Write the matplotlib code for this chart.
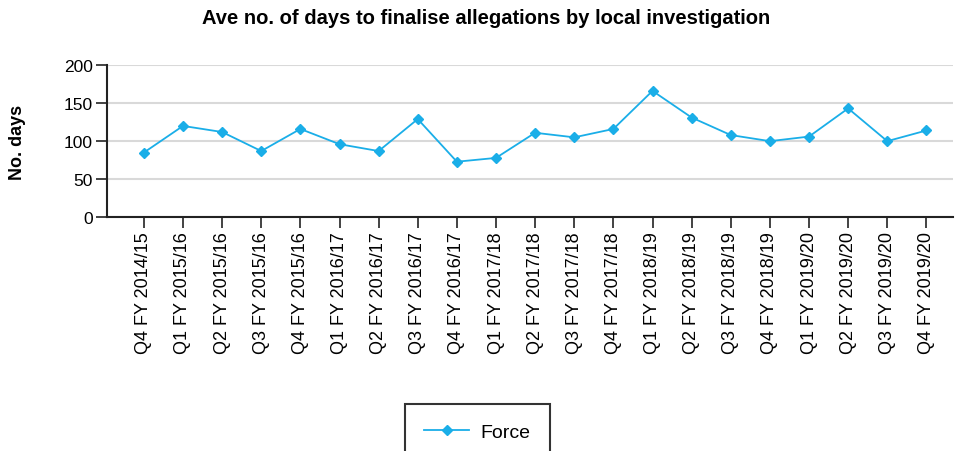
import matplotlib
matplotlib.use('Agg')
import matplotlib.pyplot as plt
import numpy as np

plt.rcParams['font.family'] = ['Liberation Sans', 'DejaVu Sans']

# quarters and average days
quarters = ['Q4 FY 2014/15', 'Q1 FY 2015/16', 'Q2 FY 2015/16', 'Q3 FY 2015/16',
            'Q4 FY 2015/16', 'Q1 FY 2016/17', 'Q2 FY 2016/17', 'Q3 FY 2016/17',
            'Q4 FY 2016/17', 'Q1 FY 2017/18', 'Q2 FY 2017/18', 'Q3 FY 2017/18',
            'Q4 FY 2017/18', 'Q1 FY 2018/19', 'Q2 FY 2018/19', 'Q3 FY 2018/19',
            'Q4 FY 2018/19', 'Q1 FY 2019/20', 'Q2 FY 2019/20', 'Q3 FY 2019/20',
            'Q4 FY 2019/20']
force_days = [85, 120, 112, 87, 116, 96, 87, 129, 73, 78, 111, 105,
              116, 166, 131, 108, 100, 106, 143, 100, 114]
y_ticks = [0, 50, 100, 150, 200]

line_col = '#1aaee8'

fig = plt.figure(figsize=(9.58, 4.52), dpi=100)
ax = fig.add_axes([106.7/958, 1-218.3/452, (953-106.7)/958, (218.3-66)/452])

x = np.arange(len(quarters))
ax.plot(x, force_days, color=line_col, lw=1.3, marker='D', ms=5,
        mec=line_col, mfc=line_col, label='Force', zorder=3)

ax.set_ylim(0, 200)
ax.set_yticks(y_ticks)
ax.set_xlim(-0.95, len(quarters) - 1 + 0.68)
ax.set_xticks(x)
ax.set_xticklabels(quarters, rotation=90, fontsize=13)
ax.tick_params(axis='y', labelsize=12.5, length=8, width=1.2, color='#222222', pad=2)
ax.tick_params(axis='x', length=8, width=1.2, color='#222222', pad=2)

ax.grid(axis='y', color='#d9d9d9', lw=1.5)
ax.set_axisbelow(True)
for s in ['top', 'right']:
    ax.spines[s].set_visible(False)
for s in ['left', 'bottom']:
    ax.spines[s].set_color('#222222')
    ax.spines[s].set_linewidth(1.5)

ax.set_ylabel('No. days', fontsize=13, fontweight='bold')
ax.yaxis.set_label_coords(-(106.7-26)/846.3, 0.5)

fig.suptitle('Ave no. of days to finalise allegations by local investigation',
             fontsize=14.5, fontweight='bold', x=486/958, y=1-18/452, va='center')

leg = fig.legend(loc='upper left', bbox_to_anchor=(405/958, 1-405/452),
                 fontsize=14, handlelength=2.3, borderpad=1.0, borderaxespad=0,
                 handletextpad=0.6, fancybox=False, framealpha=1)
leg.get_frame().set_edgecolor('#333333')
leg.get_frame().set_linewidth(1.5)

fig.savefig('out.png', dpi=100)
